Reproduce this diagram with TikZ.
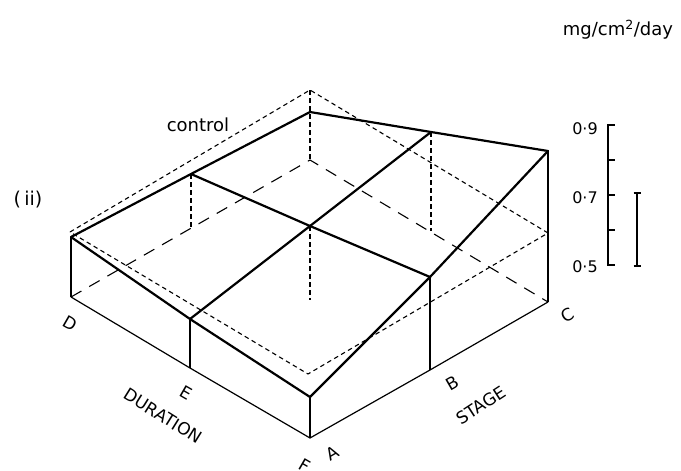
\documentclass[tikz,border=0pt]{standalone}
\usepackage{fontspec}
\setmainfont{DejaVu Sans}
\begin{document}
\begin{tikzpicture}[x=1pt,y=-1pt,
  thickln/.style={line width=2.2pt, line join=round, line cap=round},
  thinln/.style={line width=1.2pt},
  ctrl/.style={line width=1.1pt, dash pattern=on 4.5pt off 3.5pt},
  hidden/.style={line width=1.1pt, dash pattern=on 12pt off 9pt},
  lbl/.style={font=\fontsize{17}{17}\selectfont, inner sep=0pt},
  small/.style={font=\fontsize{16}{16}\selectfont, inner sep=0pt}]
\useasboundingbox (0,0) rectangle (681,471);
% base points
\coordinate (Db) at (71,297);
\coordinate (Eb) at (190,368);
\coordinate (Ab) at (310,438);
\coordinate (Bb) at (430,370);
\coordinate (Cb) at (548,302);
\coordinate (Kb) at (310,160);
\coordinate (LMb) at (191,229);
\coordinate (RMb) at (431,231);
\coordinate (Mb) at (310,300);
% top surface
\coordinate (Dt) at (71,237);
\coordinate (Et) at (190,319);
\coordinate (At) at (310,397);
\coordinate (Bt) at (430,277);
\coordinate (Ct) at (548,151);
\coordinate (Kt) at (310,112);
\coordinate (LMt) at (191,174);
\coordinate (RMt) at (431,132);
\coordinate (Mt) at (310,226);
% control plane
\coordinate (Dc) at (70,232);
\coordinate (Kc) at (310,90);
\coordinate (Cc) at (548,233);
\coordinate (Fc) at (308,374);
% hidden base edges
\draw[hidden] (Db) -- (Kb) -- (Cb);
% control plane and verticals
\draw[ctrl] (Dc) -- (Kc) -- (Cc) -- (Fc) -- cycle;
\draw[ctrl] (Kc) -- (Kb);
\draw[ctrl] (LMt) -- (LMb);
\draw[ctrl] (RMt) -- (RMb);
\draw[ctrl] (Mt) -- (Mb);
% box edges
\draw[thinln] (Dt) -- (Db) (Et) -- (Eb) (At) -- (Ab) (Bt) -- (Bb) (Ct) -- (Cb);
\draw[thinln] (Db) -- (Eb) -- (Ab) -- (Bb) -- (Cb);
% top surface
\draw[thickln] (Dt) -- (Et) -- (At) -- (Bt) -- (Ct);
\draw[thickln] (Dt) -- (LMt) -- (Kt) -- (RMt) -- (Ct);
\draw[thickln] (LMt) -- (Mt) -- (Bt);
\draw[thickln] (Et) -- (Mt) -- (RMt);
% labels
\node[lbl, font=\fontsize{18}{18}\selectfont] (ctl) at (198,125) {control};
\node[lbl, font=\fontsize{19}{19}\selectfont] (ii) at (28,200) {(\,ii)};
\node[lbl, rotate=-30] (labD) at (70,323) {D};
\node[lbl, rotate=-30] (labE) at (186,393) {E};
\node[lbl, rotate=-30] (labF) at (305,466) {F};
\node[lbl, rotate=30] (labA) at (332,453) {A};
\node[lbl, rotate=30] (labB) at (452,383) {B};
\node[lbl, rotate=30] (labC) at (568,315) {C};
\node[lbl, rotate=-32] (dur) at (163,416) {DURATION};
\node[lbl, rotate=33] (stg) at (481,405) {STAGE};
\node[small, font=\fontsize{18}{18}\selectfont] (unit) at (618,30) {mg/cm\textsuperscript{2}/day};
% scale bar
\coordinate (s9) at (608,125);
\coordinate (s5) at (608,265);
\draw[thinln] (s9) -- (s5);
\foreach \yy in {125,160,195,230,265} \draw[thinln] (607.4,\yy) -- (615,\yy);
\node[small] (n9) at (585,129) {0·9};
\node[small] (n7) at (585,198) {0·7};
\node[small] (n5) at (585,267) {0·5};
% error bar
\coordinate (e1) at (637,193);
\coordinate (e2) at (637,266);
\draw[thinln] (e1) -- (e2);
\draw[thinln] ([xshift=-3.5pt]e1) -- ([xshift=3.5pt]e1);
\draw[thinln] ([xshift=-3.5pt]e2) -- ([xshift=3.5pt]e2);
\end{tikzpicture}
\end{document}
